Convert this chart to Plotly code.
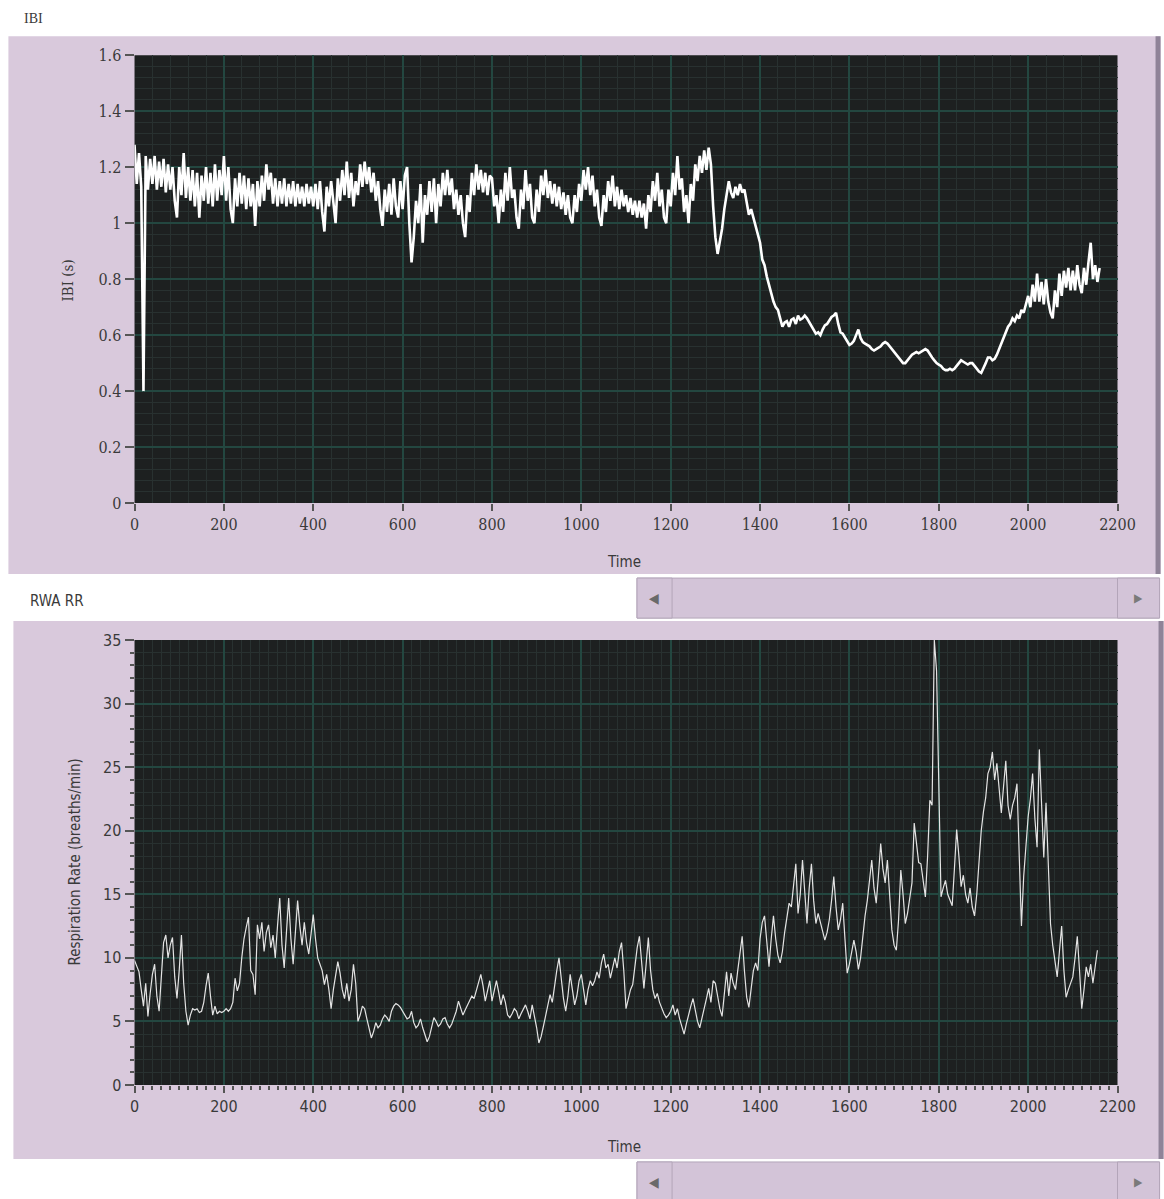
import plotly.graph_objects as go

# ---------------- data ----------------
# Inter-beat interval (s), sampled every 5 s starting at t = 0
IBI_DT = 5
ibi_values = [
    1.28, 1.14, 1.25, 1.13, 0.40, 1.24, 1.12, 1.23, 1.14, 1.24, 1.12, 1.22, 1.13, 1.23, 1.11, 1.21, 1.12, 1.20, 1.08, 1.02,
    1.20, 1.10, 1.25, 1.09, 1.20, 1.08, 1.19, 1.06, 1.18, 1.02, 1.17, 1.08, 1.20, 1.07, 1.18, 1.06, 1.21, 1.08, 1.19, 1.10,
    1.24, 1.08, 1.20, 1.05, 1.00, 1.16, 1.06, 1.18, 1.07, 1.17, 1.05, 1.16, 1.06, 1.14, 0.99, 1.15, 1.06, 1.17, 1.08, 1.21,
    1.12, 1.18, 1.07, 1.16, 1.06, 1.15, 1.07, 1.16, 1.06, 1.14, 1.07, 1.15, 1.06, 1.14, 1.07, 1.13, 1.06, 1.14, 1.07, 1.13,
    1.06, 1.14, 1.05, 1.15, 1.04, 0.97, 1.13, 1.06, 1.15, 1.07, 1.00, 1.16, 1.08, 1.19, 1.10, 1.22, 1.09, 1.18, 1.06, 1.15,
    1.10, 1.21, 1.13, 1.22, 1.14, 1.20, 1.11, 1.18, 1.08, 1.15, 1.05, 0.99, 1.12, 1.04, 1.14, 1.03, 1.16, 1.06, 1.02, 1.15,
    1.05, 1.17, 1.20, 1.00, 0.86, 0.95, 1.08, 1.00, 1.14, 0.93, 1.10, 1.03, 1.15, 1.04, 1.16, 1.00, 1.14, 1.06, 1.18, 1.10,
    1.19, 1.10, 1.16, 1.05, 1.12, 1.03, 1.10, 1.00, 0.95, 1.10, 1.04, 1.18, 1.10, 1.21, 1.12, 1.19, 1.11, 1.18, 1.10, 1.17,
    1.16, 1.06, 1.10, 1.00, 1.12, 1.04, 1.18, 1.08, 1.20, 1.09, 1.12, 1.02, 0.98, 1.12, 1.05, 1.19, 1.08, 1.14, 1.02, 1.00,
    1.12, 1.04, 1.17, 1.10, 1.19, 1.09, 1.15, 1.07, 1.14, 1.06, 1.13, 1.05, 1.11, 1.03, 1.10, 1.02, 1.00, 1.10, 1.04, 1.14,
    1.08, 1.19, 1.12, 1.20, 1.10, 1.17, 1.06, 1.12, 1.02, 0.99, 1.10, 1.04, 1.15, 1.08, 1.17, 1.06, 1.13, 1.05, 1.12, 1.06,
    1.10, 1.04, 1.09, 1.03, 1.08, 1.02, 1.08, 1.02, 1.07, 0.98, 1.10, 1.04, 1.15, 1.08, 1.18, 1.06, 1.12, 1.02, 1.00, 1.12,
    1.06, 1.18, 1.10, 1.24, 1.12, 1.16, 1.04, 1.10, 1.00, 1.14, 1.08, 1.21, 1.15, 1.24, 1.18, 1.26, 1.19, 1.27, 1.21, 1.06,
    0.95, 0.89, 0.93, 0.98, 1.05, 1.10, 1.15, 1.11, 1.09, 1.13, 1.10, 1.14, 1.11, 1.12, 1.07, 1.03, 1.05, 1.02, 0.99, 0.95,
    0.93, 0.87, 0.85, 0.81, 0.78, 0.74, 0.72, 0.70, 0.69, 0.66, 0.63, 0.645, 0.65, 0.63, 0.655, 0.66, 0.64, 0.67, 0.655, 0.66,
    0.67, 0.66, 0.645, 0.63, 0.615, 0.605, 0.61, 0.60, 0.62, 0.635, 0.64, 0.655, 0.665, 0.67, 0.68, 0.64, 0.61, 0.605, 0.59, 0.58,
    0.565, 0.57, 0.58, 0.60, 0.62, 0.59, 0.575, 0.57, 0.565, 0.56, 0.55, 0.545, 0.55, 0.555, 0.56, 0.57, 0.575, 0.57, 0.56, 0.55,
    0.54, 0.53, 0.52, 0.51, 0.50, 0.50, 0.51, 0.52, 0.53, 0.535, 0.54, 0.535, 0.54, 0.545, 0.55, 0.545, 0.53, 0.52, 0.51, 0.50,
    0.495, 0.49, 0.48, 0.475, 0.475, 0.48, 0.475, 0.48, 0.49, 0.50, 0.51, 0.505, 0.50, 0.495, 0.50, 0.50, 0.49, 0.48, 0.47, 0.465,
    0.48, 0.50, 0.52, 0.52, 0.51, 0.515, 0.53, 0.55, 0.57, 0.59, 0.61, 0.63, 0.64, 0.66, 0.65, 0.67, 0.66, 0.69, 0.68, 0.71,
    0.74, 0.70, 0.78, 0.72, 0.82, 0.72, 0.79, 0.71, 0.80, 0.72, 0.68, 0.66, 0.76, 0.70, 0.82, 0.74, 0.83, 0.77, 0.84, 0.76,
    0.83, 0.76, 0.85, 0.78, 0.75, 0.84, 0.78, 0.86, 0.93, 0.80, 0.85, 0.79, 0.84,
]

# Respiration rate (breaths/min), sampled every 5 s starting at t = 0
RR_DT = 5
rr_values = [
    9.8, 9.4, 8.9, 7.5, 6.2, 8.0, 5.4, 7.2, 8.7, 9.5, 7.0, 5.8, 8.5, 11.2, 11.8, 10.0, 11.0, 11.6, 8.5, 6.8,
    9.0, 11.8, 8.0, 5.8, 4.7, 5.5, 6.0, 5.9, 6.0, 5.7, 5.8, 6.5, 7.8, 8.8, 7.0, 5.5, 6.2, 5.6, 5.8, 5.7,
    5.8, 6.0, 5.8, 6.0, 6.5, 8.4, 7.4, 8.0, 10.0, 11.5, 12.4, 13.2, 9.0, 8.7, 7.1, 12.6, 11.5, 12.8, 10.5, 12.0,
    12.6, 10.8, 11.8, 10.0, 12.5, 14.7, 11.0, 9.2, 12.0, 14.7, 11.5, 9.5, 12.0, 14.5, 12.5, 11.0, 12.8, 11.2, 10.3, 12.0,
    13.4, 11.5, 10.0, 9.5, 9.0, 7.9, 8.7, 7.5, 6.0, 7.5, 8.5, 9.7, 8.8, 7.5, 6.8, 8.0, 6.6, 7.5, 9.5, 8.0,
    5.0, 5.5, 6.2, 6.0, 5.2, 4.5, 3.7, 4.2, 4.9, 4.5, 4.7, 5.2, 5.5, 5.3, 5.0, 5.8, 6.2, 6.4, 6.3, 6.1,
    5.8, 5.4, 5.2, 5.3, 5.8, 4.9, 4.5, 4.7, 5.2, 4.5, 3.9, 3.4, 3.8, 4.6, 5.3, 5.0, 4.6, 4.8, 5.2, 5.3,
    4.8, 4.5, 4.8, 5.3, 5.8, 6.6, 6.0, 5.5, 5.9, 6.3, 6.6, 7.0, 6.8, 7.5, 8.0, 8.7, 7.8, 6.6, 7.4, 8.2,
    6.6, 7.4, 8.2, 7.3, 6.3, 7.1, 6.5, 5.5, 5.3, 5.6, 6.0, 5.8, 5.2, 5.6, 6.0, 6.3, 5.8, 5.2, 6.3, 5.5,
    4.5, 3.3, 3.8, 4.6, 5.5, 6.2, 7.1, 6.5, 8.0, 9.0, 10.0, 8.2, 6.8, 5.8, 7.0, 8.7, 7.5, 6.3, 7.0, 8.2,
    8.7, 7.6, 6.3, 7.5, 8.2, 7.8, 8.2, 8.9, 8.4, 9.6, 10.3, 9.2, 9.5, 8.4, 9.2, 10.0, 9.2, 10.5, 11.2, 9.0,
    6.0, 6.8, 7.5, 7.9, 9.5, 10.8, 11.7, 9.5, 7.6, 9.5, 11.6, 9.0, 7.5, 6.8, 7.2, 6.5, 6.0, 5.6, 5.3, 5.5,
    5.8, 6.3, 5.5, 6.0, 5.2, 4.6, 4.0, 4.8, 5.6, 6.2, 6.8, 5.8, 5.0, 4.5, 5.2, 6.0, 6.8, 7.6, 6.5, 8.2,
    8.0, 7.0, 6.0, 5.4, 7.2, 8.9, 7.0, 8.8, 8.0, 7.5, 9.0, 10.5, 11.7, 9.0, 6.9, 6.1, 7.5, 9.0, 9.6, 9.0,
    11.5, 12.8, 13.3, 11.0, 9.3, 11.5, 13.3, 11.5, 10.2, 9.6, 10.5, 12.0, 13.0, 14.3, 14.0, 15.5, 17.4, 13.5, 15.0, 17.7,
    15.0, 12.7, 15.5, 17.4, 14.5, 12.7, 13.5, 12.8, 12.0, 11.4, 12.0, 13.0, 14.5, 16.4, 14.0, 12.2, 13.0, 14.3, 11.5, 8.8,
    9.5, 10.5, 11.4, 10.5, 9.1, 10.0, 11.8, 13.3, 14.5, 16.0, 17.7, 15.5, 14.3, 16.5, 19.0, 17.0, 15.9, 17.7, 15.0, 12.2,
    11.0, 10.6, 13.0, 16.9, 15.0, 12.7, 13.5, 14.8, 15.9, 20.6, 19.0, 17.5, 17.4, 16.0, 14.8, 18.0, 22.4, 22.0, 35.0, 32.6,
    22.2, 14.8, 15.5, 16.1, 15.0, 14.5, 14.1, 17.0, 20.1, 18.0, 15.6, 16.5, 15.0, 14.3, 15.5, 14.0, 13.3, 15.0, 17.9, 20.0,
    21.5, 22.6, 24.5, 25.0, 26.2, 24.0, 25.3, 23.0, 21.4, 23.5, 25.5, 22.0, 20.9, 22.0, 22.6, 23.7, 18.0, 12.5, 16.4, 19.0,
    21.1, 22.5, 24.5, 21.0, 18.7, 26.4, 22.0, 17.9, 22.2, 17.0, 12.7, 11.0, 9.5, 8.5, 10.5, 12.5, 9.0, 6.9, 7.5, 8.0,
    8.5, 10.0, 11.7, 9.0, 6.0, 7.5, 9.3, 8.5, 9.5, 8.0, 9.5, 10.6,
]

ibi_time = [i * IBI_DT for i in range(len(ibi_values))]
rr_time = [i * RR_DT for i in range(len(rr_values))]

time_ticks = list(range(0, 2201, 200))
ibi_ticks = [0, 0.2, 0.4, 0.6, 0.8, 1, 1.2, 1.4, 1.6]
rr_ticks = [0, 5, 10, 15, 20, 25, 30, 35]

# ---------------- styling ----------------
# Layout positions below are given in screen pixels of the final page; the
# helpers convert them into the figure's own paper coordinates.
W, H = 1184, 1210
SX, OX = 0.9796, 4.6
SY, OY = 0.9845, 8.8

PANEL = "#d9c9dc"
PANEL_EDGE = "#8f8398"
PLOT_BG = "#1d2020"
GRID_MAJOR = "#234740"
GRID_MINOR = "#283130"
TEXT = "#3a3a3a"
SCROLL = "#d3c4d8"
SCROLL_EDGE = "#b3a5b9"


def px(x):
    return ((x - OX) / SX) / W


def py(y):
    return 1 - ((y - OY) / SY) / H


X_DOMAIN = [px(134), px(1116)]
TOP_Y = [py(503), py(55)]
BOT_Y = [py(1085), py(640)]

fig = go.Figure()

fig.add_trace(go.Scatter(
    x=ibi_time, y=ibi_values, mode="lines", xaxis="x", yaxis="y",
    line=dict(color="#ffffff", width=2.6), showlegend=False, hoverinfo="skip",
))
fig.add_trace(go.Scatter(
    x=rr_time, y=rr_values, mode="lines", xaxis="x2", yaxis="y2",
    line=dict(color="#e4e4e4", width=1.2), showlegend=False, hoverinfo="skip",
))

shapes = []


def rect(x0, y0, x1, y1, fill, line=None, width=0):
    shapes.append(dict(
        type="rect", xref="paper", yref="paper", layer="below",
        x0=px(x0), x1=px(x1), y0=py(y1), y1=py(y0),
        fillcolor=fill, line=dict(color=line or fill, width=width),
    ))


# lavender frames around each graph
rect(8, 36, 1159, 574, PANEL)
rect(1154, 36, 1159, 574, PANEL_EDGE)
rect(13, 621, 1162, 1159, PANEL)
rect(1157, 621, 1162, 1159, PANEL_EDGE)
# dark plotting areas
rect(134, 55, 1116, 503, PLOT_BG)
rect(134, 640, 1116, 1085, PLOT_BG)
# horizontal scrollbars under each graph
for top in (578, 1162):
    rect(636, top, 1158, top + 40, SCROLL, SCROLL_EDGE, 1)
    rect(636, top, 671, top + 40, SCROLL, SCROLL_EDGE, 1)
    rect(1116, top, 1158, top + 40, SCROLL, SCROLL_EDGE, 1)

annotations = []


def text(x, y, s, size, family, angle=0, color=TEXT, xanchor="center", yanchor="middle"):
    annotations.append(dict(
        x=px(x), y=py(y), xref="paper", yref="paper", text=s, showarrow=False,
        xanchor=xanchor, yanchor=yanchor, textangle=angle,
        font=dict(size=size, family=family, color=color),
    ))


SERIF = "DejaVu Serif Condensed, Liberation Serif, serif"
SANS = "DejaVu Sans Condensed, DejaVu Sans, sans-serif"

text(22, 18, "IBI", 14, "Liberation Serif, serif", xanchor="left")
text(28, 601, "RWA RR", 15, SANS, xanchor="left")
text(68, 280, "IBI (s)", 15, SERIF, angle=-90)
text(623, 562, "Time", 15, SANS)
text(75, 862, "Respiration Rate (breaths/min)", 15, SANS, angle=-90)
text(623, 1147, "Time", 15, SANS)
for top in (578, 1162):
    text(653, top + 20, "◀", 14, SANS, color="#6a6a6a")
    text(1137, top + 20, "▶", 12, SANS, color="#7a7a7a")

common_x = dict(
    range=[0, 2200], tickvals=time_ticks, ticks="outside", ticklen=7, tickwidth=1.5,
    tickcolor="#555555", showgrid=True, gridcolor=GRID_MAJOR, gridwidth=1.6,
    zeroline=False, showline=False, domain=X_DOMAIN,
)
common_y = dict(
    ticks="outside", ticklen=9, tickwidth=1.5, tickcolor="#555555",
    showgrid=True, gridcolor=GRID_MAJOR, gridwidth=1.6, zeroline=False, showline=False,
)

fig.update_layout(
    width=W, height=H,
    margin=dict(l=0, r=0, t=0, b=0),
    paper_bgcolor="white", plot_bgcolor=PLOT_BG,
    showlegend=False,
    shapes=shapes, annotations=annotations,
    xaxis=dict(
        **common_x, anchor="y",
        tickfont=dict(family=SERIF, size=16, color=TEXT),
        minor=dict(dtick=40, showgrid=True, gridcolor=GRID_MINOR, gridwidth=1),
    ),
    yaxis=dict(
        **common_y, range=[0, 1.6], tickvals=ibi_ticks, domain=TOP_Y, anchor="x",
        tickfont=dict(family=SERIF, size=16, color=TEXT),
        minor=dict(dtick=0.04, showgrid=True, gridcolor=GRID_MINOR, gridwidth=1),
    ),
    xaxis2=dict(
        **common_x, anchor="y2",
        tickfont=dict(family=SANS, size=16, color=TEXT),
        minor=dict(dtick=20, showgrid=True, gridcolor=GRID_MINOR, gridwidth=1,
                   ticks="outside", ticklen=4, tickwidth=1.5, tickcolor="#555555"),
    ),
    yaxis2=dict(
        **common_y, range=[0, 35], tickvals=rr_ticks, domain=BOT_Y, anchor="x2",
        tickfont=dict(family=SANS, size=16, color=TEXT),
        minor=dict(dtick=1, showgrid=True, gridcolor=GRID_MINOR, gridwidth=1,
                   ticks="outside", ticklen=4, tickwidth=2, tickcolor="#555555"),
    ),
)

fig.write_html("out.html")
